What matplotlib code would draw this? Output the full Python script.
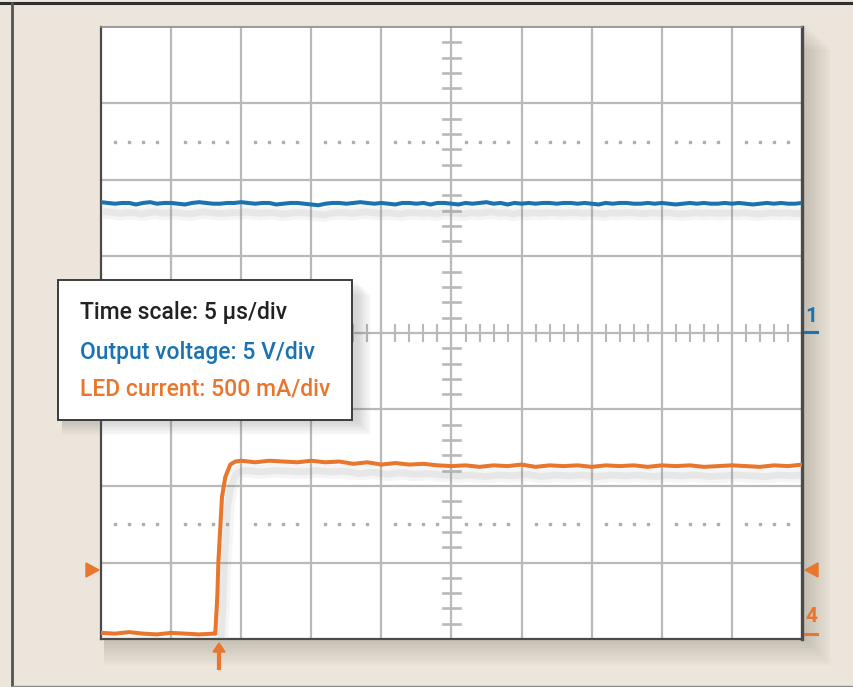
import numpy as np
import matplotlib
matplotlib.use("Agg")
import matplotlib.pyplot as plt
from matplotlib.patches import Rectangle, Polygon
from matplotlib.lines import Line2D
import matplotlib.patheffects as pe

W, H = 854, 687

# scope settings
TIME_DIV = 5.0       # us/div
VOLT_DIV = 5.0       # V/div
AMP_DIV = 500.0      # mA/div
CH1_OFFSET = 0.0     # divisions (ground marker "1")
CH4_OFFSET = -3.93   # divisions (ground marker "4")

# channel 1: output voltage (V), one sample every 0.5 us from -25 to 25 us
vout_t = np.linspace(-25, 25, 101)
vout = [8.55, 8.50, 8.45, 8.50, 8.50, 8.40, 8.50, 8.55, 8.45, 8.50,
        8.50, 8.45, 8.40, 8.50, 8.55, 8.50, 8.45, 8.45, 8.50, 8.50,
        8.55, 8.50, 8.45, 8.50, 8.50, 8.40, 8.45, 8.50, 8.50, 8.45,
        8.40, 8.35, 8.45, 8.50, 8.50, 8.45, 8.50, 8.55, 8.50, 8.45,
        8.50, 8.45, 8.40, 8.50, 8.50, 8.45, 8.50, 8.40, 8.50, 8.50,
        8.45, 8.40, 8.50, 8.45, 8.50, 8.55, 8.45, 8.50, 8.40, 8.50,
        8.45, 8.50, 8.45, 8.50, 8.50, 8.45, 8.50, 8.50, 8.45, 8.50,
        8.45, 8.40, 8.50, 8.45, 8.50, 8.50, 8.45, 8.45, 8.50, 8.45,
        8.50, 8.45, 8.40, 8.45, 8.50, 8.45, 8.50, 8.45, 8.45, 8.50,
        8.45, 8.50, 8.45, 8.40, 8.45, 8.50, 8.45, 8.50, 8.45, 8.45, 8.50]

# channel 4: LED current (mA)
led_t = [-25, -24, -23, -22, -21, -20, -19, -18, -17, -16.85,
         -16.7, -16.63, -16.37, -16.13, -15.78, -15.42,
         -15, -14, -13, -12, -11, -10, -9, -8, -7, -6, -5, -4, -3, -2, -1,
         0, 1, 2, 3, 4, 5, 6, 7, 8, 9, 10, 11, 12, 13, 14, 15, 16, 17, 18,
         19, 20, 21, 22, 23, 24, 25]
led_i = [5, 0, 10, 0, -5, 5, 0, -5, 0, 0,
         250, 465, 895, 1025, 1105, 1125,
         1130, 1120, 1130, 1125, 1120, 1130, 1120, 1125, 1110, 1120, 1105, 1115, 1105, 1110, 1100,
         1095, 1100, 1090, 1100, 1095, 1105, 1090, 1100, 1095, 1100, 1090, 1100, 1095, 1100, 1090,
         1100, 1095, 1100, 1090, 1095, 1100, 1095, 1090, 1100, 1095, 1105]

legend_lines = ["Time scale: 5 \u03bcs/div",
                "Output voltage: 5 V/div",
                "LED current: 500 mA/div"]

BLUE = "#1a72b0"
ORANGE = "#e8762d"
GRID = "#b9b9b9"
BG = "#ebe5db"

plt.rcParams['font.family'] = ['Roboto', 'DejaVu Sans']


def fx(x):
    return x / W


def fy(y):
    return 1 - y / H


fig = plt.figure(figsize=(W / 100, H / 100), dpi=100, facecolor=BG)

# outer frame
fig.add_artist(Line2D([0, 1], [fy(3), fy(3)], color="#2e2e2e", lw=2.2))
fig.add_artist(Line2D([fx(12), fx(12)], [fy(3), fy(686)], color="#555555", lw=2.0))
fig.add_artist(Line2D([fx(12), 1], [fy(686), fy(686)], color="#8a8a8a", lw=1.0))

# soft shadow behind the graticule
for k in range(12):
    grow = 2 + k * 2.2
    fig.add_artist(Rectangle((fx(101 + 3), fy(639 + grow)), fx(701 + grow), (612 + 4) / H,
                             facecolor="#6b5f4c", edgecolor="none", alpha=0.022, zorder=0))

left, right, top, bottom = 101, 802, 27, 639
ax = fig.add_axes([fx(left), fy(bottom), (right - left) / W, (bottom - top) / H])
ax.set_xlim(-5, 5)
ax.set_ylim(-4, 4)
ax.set_facecolor("white")
ax.set_xticks([])
ax.set_yticks([])
for side in ["left", "bottom", "right"]:
    ax.spines[side].set_color("#4a4a4a")
    ax.spines[side].set_linewidth(1.6)
ax.spines["right"].set_linewidth(2.4)
ax.spines["top"].set_color("#8c8c8c")
ax.spines["top"].set_linewidth(1.2)

# graticule
for gx in range(-4, 5):
    ax.axvline(gx, color=GRID, lw=1.6, zorder=1)
for gy in range(-3, 4):
    ax.axhline(gy, color=GRID, lw=1.6, zorder=1)

minor = np.arange(-5, 5.01, 0.2)
for m in minor:
    if abs(m - round(m)) > 1e-6:
        ax.plot([m, m], [-0.11, 0.11], color=GRID, lw=1.5, zorder=1)
for m in np.arange(-4, 4.01, 0.2):
    if abs(m - round(m)) > 1e-6:
        ax.plot([-0.115, 0.115], [m, m], color=GRID, lw=1.9, zorder=1)

dots = [m for m in minor if abs(m - round(m)) > 1e-6]
for row in (2.5, -2.5):
    ax.plot(dots, [row] * len(dots), ls="none", marker="s", ms=2.0,
            color="#adadad", zorder=1)

# traces
shadow = [pe.SimpleLineShadow(offset=(4, -7), shadow_color="#8a8a8a", alpha=0.08, linewidth=10),
          pe.SimpleLineShadow(offset=(4, -7), shadow_color="#8a8a8a", alpha=0.12, linewidth=5),
          pe.Normal()]

vout_div = np.array(vout) / VOLT_DIV + CH1_OFFSET
ax.plot(vout_t / TIME_DIV, vout_div, color=BLUE, lw=2.9,
        path_effects=shadow, zorder=3)

led_div = np.array(led_i) / AMP_DIV + CH4_OFFSET
ax.plot(np.array(led_t) / TIME_DIV, led_div, color=ORANGE, lw=2.9,
        path_effects=shadow, zorder=3)

# channel markers on the right edge
fig.text(fx(811), fy(317), "1", color=BLUE, fontsize=15, fontweight="bold",
         ha="center", va="center")
fig.add_artist(Line2D([fx(805), fx(817)], [fy(332), fy(332)], color=BLUE, lw=2.2))
fig.text(fx(811), fy(617), "4", color=ORANGE, fontsize=15, fontweight="bold",
         ha="center", va="center")
fig.add_artist(Line2D([fx(805), fx(817)], [fy(634), fy(634)], color=ORANGE, lw=2.2))

# trigger level and trigger position markers
fig.add_artist(Polygon([(fx(86), fy(563)), (fx(86), fy(577)), (fx(99), fy(570))],
                       closed=True, color=ORANGE))
fig.add_artist(Polygon([(fx(818), fy(563)), (fx(818), fy(577)), (fx(805), fy(570))],
                       closed=True, color=ORANGE))
fig.add_artist(Polygon([(fx(213), fy(652)), (fx(225), fy(652)), (fx(219), fy(643))],
                       closed=True, color=ORANGE))
fig.add_artist(Line2D([fx(219), fx(219)], [fy(651), fy(668)], color=ORANGE, lw=3))

# settings box
bx0, by0, bx1, by1 = 58, 280, 352, 420
for k in range(8):
    grow = 2 + k * 1.8
    fig.add_artist(Rectangle((fx(bx0 + 4), fy(by1 + grow)), (bx1 - bx0 + grow) / W,
                             (by1 - by0) / H, facecolor="#555555", edgecolor="none",
                             alpha=0.03, zorder=5))
fig.add_artist(Rectangle((fx(bx0), fy(by1)), (bx1 - bx0) / W, (by1 - by0) / H,
                         facecolor="white", edgecolor="#3c3c3c", lw=1.4, zorder=6))
for text, color, y in zip(legend_lines, ["#222222", BLUE, ORANGE], [313, 352, 389]):
    fig.text(fx(80), fy(y), text, color=color, fontsize=16.5, fontweight="medium",
             ha="left", va="center", zorder=7)

fig.savefig("out.png", dpi=100, facecolor=BG)
